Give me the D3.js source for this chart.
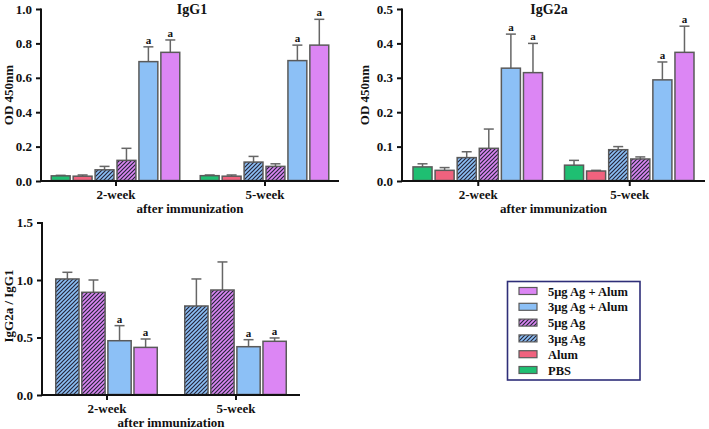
<!DOCTYPE html>
<html><head><meta charset="utf-8">
<script src="https://cdn.jsdelivr.net/npm/d3@7"></script>
<style>
body{margin:0;background:#fff;}
svg text{font-family:"Liberation Serif","Times New Roman",serif !important;font-weight:bold;fill:#111;}
</style></head>
<body>
<svg id="c" width="709" height="429"></svg>
<script>
// ---- data ----
const groups = ["2-week", "5-week"];
const series = ["PBS", "Alum", "3μg Ag", "5μg Ag", "3μg Ag + Alum", "5μg Ag + Alum"];
const ratioSeries = ["3μg Ag", "5μg Ag", "3μg Ag + Alum", "5μg Ag + Alum"];
const igg1Mean = [[0.030, 0.028, 0.065, 0.120, 0.694, 0.748], [0.031, 0.028, 0.110, 0.085, 0.700, 0.790]];
const igg1Sd   = [[0.003, 0.007, 0.020, 0.070, 0.086, 0.072], [0.004, 0.007, 0.033, 0.015, 0.090, 0.150]];
const igg2aMean = [[0.041, 0.031, 0.068, 0.095, 0.328, 0.315], [0.046, 0.029, 0.091, 0.064, 0.294, 0.374]];
const igg2aSd   = [[0.009, 0.008, 0.017, 0.056, 0.099, 0.085], [0.014, 0.002, 0.009, 0.006, 0.052, 0.076]];
const ratioMean = [[1.009, 0.893, 0.472, 0.414], [0.774, 0.913, 0.420, 0.467]];
const ratioSd   = [[0.058, 0.107, 0.131, 0.073], [0.235, 0.244, 0.061, 0.029]];
const sigSeries = ["3μg Ag + Alum", "5μg Ag + Alum"];
const igg1Ticks = [0, 0.2, 0.4, 0.6, 0.8, 1.0];
const igg2aTicks = [0, 0.1, 0.2, 0.3, 0.4, 0.5];
const ratioTicks = [0, 0.5, 1.0, 1.5];
const legendOrder = ["5μg Ag + Alum", "3μg Ag + Alum", "5μg Ag", "3μg Ag", "Alum", "PBS"];

// ---- styles ----
const FONT = '"Liberation Serif","Times New Roman",serif';
const fillColor = {"PBS":"#1fbf72","Alum":"#f0627e","3μg Ag":"#8cc0f6","5μg Ag":"#dc86f4","3μg Ag + Alum":"#8cc0f6","5μg Ag + Alum":"#dc86f4"};
const hatched = {"3μg Ag":true,"5μg Ag":true};

const svg = d3.select("#c");
const defs = svg.append("defs");
["3μg Ag","5μg Ag"].forEach((s,i)=>{
  const p = defs.append("pattern").attr("id","h"+i).attr("patternUnits","userSpaceOnUse")
    .attr("width",4).attr("height",4);
  p.append("rect").attr("width",4).attr("height",4).attr("fill",fillColor[s]);
  p.append("path").attr("d","M-1,1 l2,-2 M0,4 l4,-4 M3,5 l2,-2").attr("stroke","#25253a").attr("stroke-width",1.2);
});
function fillOf(s){ return hatched[s] ? "url(#h"+(s==="3μg Ag"?0:1)+")" : fillColor[s]; }

function panel(o){
  const g = svg.append("g");
  const x0 = d3.scalePoint().domain(groups).range(o.xr).padding(0.5);
  const x1 = d3.scaleBand().domain(o.series).range([-o.gw/2, o.gw/2]).paddingInner(o.pin);
  const y = d3.scaleLinear().domain([0, o.ymax]).range(o.yr);
  const data = [];
  groups.forEach((gr,gi)=>o.series.forEach((s,si)=>data.push({gr,s,m:o.mean[gi][si],sd:o.sd[gi][si]})));
  const bx = d=>x0(d.gr)+x1(d.s);
  // error bars
  const eb = g.selectAll(".eb").data(data).enter().append("g");
  eb.append("line").attr("x1",d=>bx(d)+x1.bandwidth()/2).attr("x2",d=>bx(d)+x1.bandwidth()/2)
    .attr("y1",d=>y(d.m)).attr("y2",d=>y(d.m+d.sd)).attr("stroke","#666").attr("stroke-width",1.5);
  eb.append("line").attr("x1",d=>bx(d)+x1.bandwidth()/2-5).attr("x2",d=>bx(d)+x1.bandwidth()/2+5)
    .attr("y1",d=>y(d.m+d.sd)).attr("y2",d=>y(d.m+d.sd)).attr("stroke","#666").attr("stroke-width",1.5);
  g.selectAll(".bar").data(data).enter().append("rect")
    .attr("x",d=>bx(d)+0.75).attr("width",x1.bandwidth()-1.5)
    .attr("y",d=>y(d.m)).attr("height",d=>y(0)-y(d.m)-0.5)
    .attr("fill",d=>fillOf(d.s)).attr("stroke","#5a5a5a").attr("stroke-width",1.5);
  g.selectAll(".sig").data(data.filter(d=>sigSeries.includes(d.s))).enter().append("text")
    .attr("x",d=>bx(d)+x1.bandwidth()/2).attr("y",d=>y(d.m+d.sd)-3)
    .attr("text-anchor","middle").style("font-size","11px").text("a");
  // axes
  const ya = g.append("g").attr("transform",`translate(${o.xr[0]},0)`)
    .call(d3.axisLeft(y).tickValues(o.ticks).tickFormat(d3.format(".1f")).tickSize(5).tickSizeOuter(0).tickPadding(4));
  const xa = g.append("g").attr("transform",`translate(0,${o.yr[0]})`)
    .call(d3.axisBottom(x0).tickSize(5).tickSizeOuter(0).tickPadding(4));
  [ya,xa].forEach(a=>{
    a.attr("font-family",null).attr("font-size",null);
    a.selectAll("path,line").attr("stroke","#111").attr("stroke-width",2);
    a.selectAll("text").style("font-size","13px").style("font-family",FONT).style("font-weight","bold").attr("fill","#111");
  });
  ya.select(".domain").attr("d",`M0,${o.yr[1]-0.5}V${o.yr[0]+1}`);
  xa.select(".domain").attr("d",`M${o.xr[0]-1},0H${o.xr[1]}`);
  if(o.title) g.append("text").attr("x",o.tx).attr("y",o.yr[1]+5).attr("text-anchor","middle").style("font-size","14px").text(o.title);
  g.append("text").attr("transform",`translate(${o.lx},${o.ly}) rotate(-90)`).attr("text-anchor","middle").style("font-size","13px").text(o.ylab);
  g.append("text").attr("x",(o.xr[0]+o.xr[1])/2).attr("y",o.yr[0]+32).attr("text-anchor","middle").style("font-size","13px").text("after immunization");
}

panel({xr:[41,339], yr:[181,9], ymax:1.0, ticks:igg1Ticks, series:series, mean:igg1Mean, sd:igg1Sd, gw:130, pin:0.07,
  title:"IgG1", tx:192, ylab:"OD 450nm", lx:13, ly:95});
panel({xr:[402,705], yr:[181,9], ymax:0.5, ticks:igg2aTicks, series:series, mean:igg2aMean, sd:igg2aSd, gw:131, pin:0.07,
  title:"IgG2a", tx:549, ylab:"OD 450nm", lx:369, ly:95});
panel({xr:[42,300], yr:[395,222.5], ymax:1.5, ticks:ratioTicks, series:ratioSeries, mean:ratioMean, sd:ratioSd, gw:103, pin:0.05,
  title:null, ylab:"IgG2a / IgG1", lx:13, ly:306});

// legend
const lg = svg.append("g");
lg.append("rect").attr("x",507.5).attr("y",281.5).attr("width",132.5).attr("height",98.5)
  .attr("fill","#fff").attr("stroke","#2e2e78").attr("stroke-width",1.6);
const ly = d3.scalePoint().domain(legendOrder).range([291,370]);
legendOrder.forEach(s=>{
  lg.append("rect").attr("x",519).attr("y",ly(s)-3.5).attr("width",18).attr("height",7)
    .attr("fill",fillOf(s)).attr("stroke","#5a5a5a").attr("stroke-width",1.2);
  lg.append("text").attr("x",548).attr("y",ly(s)+4.5).style("font-size","12.5px").text(s);
});
</script>
</body></html>
